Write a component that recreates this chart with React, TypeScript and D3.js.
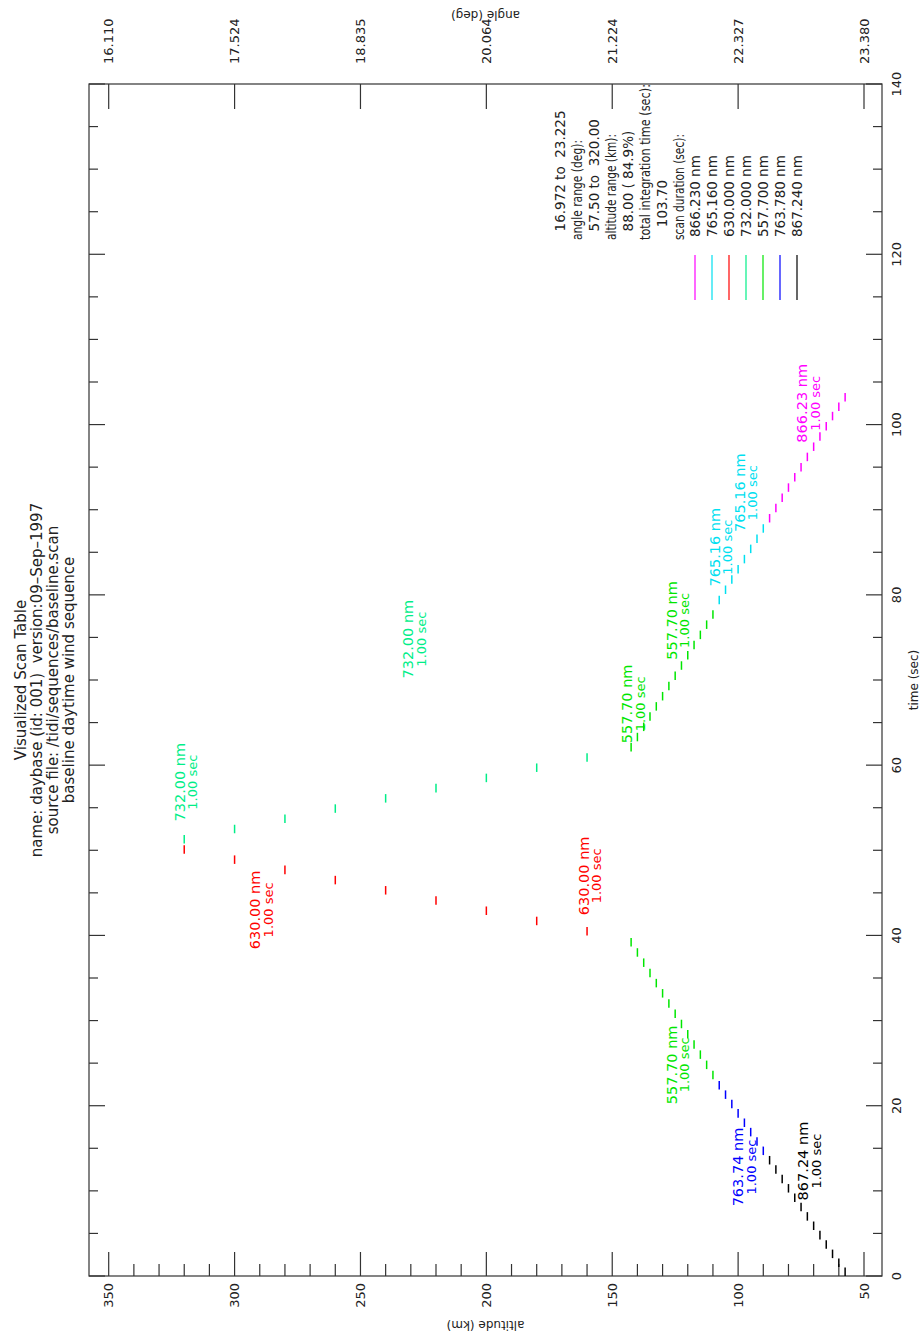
import React from 'react';
import * as d3 from 'd3';

// page is drawn in the plot's own (landscape) frame, then turned -90deg
const W = 923;
const H = 1342;

const timeTicksMajor = [0, 20, 40, 60, 80, 100, 120, 140];
const altTicksMajor = [350, 300, 250, 200, 150, 100, 50];
const angleTickLabels = ['16.110', '17.524', '18.835', '20.064', '21.224', '22.327', '23.380'];

const titleLines = [
  'Visualized Scan Table',
  'name: daybase (id: 001)  version:09\u2013Sep\u20131997',
  'source file: /tidi/sequences/baseline.scan',
  'baseline daytime wind sequence',
];

// scan table, one array pair per filter run (altitude km, start time sec)
const alt867 = [57.5, 60, 62.5, 65, 67.5, 70, 72.5, 75, 77.5, 80, 82.5, 85, 87.5];
const t867 = [0.0, 1.05, 2.1, 3.2, 4.3, 5.4, 6.5, 7.6, 8.7, 9.8, 10.9, 12.0, 13.1];
const alt763 = [90, 92.5, 95, 97.5, 100, 102.5, 105, 107.5];
const t763 = [14.2, 15.3, 16.4, 17.5, 18.6, 19.7, 20.8, 21.9];
const alt557up = [110, 112.5, 115, 117.5, 120, 122.5, 125, 127.5, 130, 132.5, 135, 137.5, 140, 142.5];
const t557up = [23.1, 24.3, 25.5, 26.7, 27.9, 29.1, 30.3, 31.5, 32.7, 33.9, 35.1, 36.3, 37.5, 38.7];
const alt630 = [160, 180, 200, 220, 240, 260, 280, 300, 320];
const t630 = [40.0, 41.2, 42.4, 43.6, 44.8, 46.0, 47.2, 48.4, 49.6];
const alt732 = [320, 300, 280, 260, 240, 220, 200, 180, 160];
const t732 = [50.8, 52.0, 53.2, 54.4, 55.6, 56.8, 58.0, 59.2, 60.4];
const alt557down = [142.5, 140, 137.5, 135, 132.5, 130, 127.5, 125, 122.5, 120, 117.5, 115, 112.5, 110];
const t557down = [61.6, 62.8, 64.0, 65.2, 66.4, 67.6, 68.8, 70.0, 71.2, 72.4, 73.6, 74.8, 76.0, 77.2];
const alt765 = [107.5, 105, 102.5, 100, 97.5, 95, 92.5, 90];
const t765 = [78.9, 80.1, 81.3, 82.5, 83.7, 84.9, 86.1, 87.3];
const alt866 = [87.5, 85, 82.5, 80, 77.5, 75, 72.5, 70, 67.5, 65, 62.5, 60, 57.5];
const t866 = [88.5, 89.7, 90.9, 92.1, 93.3, 94.5, 95.7, 96.9, 98.1, 99.3, 100.5, 101.6, 102.7];
const integration = 1.0;

const legendNames = ['867.240 nm', '763.780 nm', '557.700 nm', '732.000 nm', '630.000 nm', '765.160 nm', '866.230 nm'];
const legendColors = ['#000000', '#0000ff', '#00e600', '#00ee88', '#ff0000', '#00e0f0', '#ff00ff'];
const infoLines = [
  'scan duration (sec):',
  '   103.70',
  'total integration time (sec):',
  '  88.00 ( 84.9%)',
  'altitude range (km):',
  '  57.50 to  320.00',
  'angle range (deg):',
  '  16.972 to  23.225',
];
// the plot font is narrow for letters; squeeze the worded lines
const infoWidths = [106, 0, 156, 0, 106, 0, 100, 0];

// run labels: wavelength, colour index, centre time, altitude of first line
const labelWl = ['867.24', '763.74', '557.70', '630.00', '630.00', '732.00', '732.00', '557.70', '557.70', '765.16', '765.16', '866.23'];
const labelColor = [0, 1, 2, 4, 4, 3, 3, 2, 2, 5, 5, 6];
const labelT = [13.5, 12.8, 24.8, 47.0, 43.0, 58.0, 74.8, 67.2, 77.0, 85.6, 92.0, 102.5];
const labelAlt = [72.2, 98.0, 124.3, 159.4, 289.9, 319.7, 229.1, 142.1, 124.3, 107.2, 97.3, 72.6];

const runs = [
  { alt: alt867, t: t867, c: 0 },
  { alt: alt763, t: t763, c: 1 },
  { alt: alt557up, t: t557up, c: 2 },
  { alt: alt630, t: t630, c: 4 },
  { alt: alt732, t: t732, c: 3 },
  { alt: alt557down, t: t557down, c: 2 },
  { alt: alt765, t: t765, c: 5 },
  { alt: alt866, t: t866, c: 6 },
];

const font = "'DejaVu Sans', sans-serif";
const ink = '#222';

const App: React.FC = () => {
  const frame = { left: 66, right: 1258, top: 89, bottom: 882 };
  const x = d3.scaleLinear().domain([0, 140]).range([frame.left, frame.right]);
  const y = d3.scaleLinear().domain([50, 350]).range([864, 108.7]);

  const minorTime = d3.range(0, 141, 5);
  const altMinor = d3.range(50, 351, 10);
  const midU = (frame.left + frame.right) / 2;
  const midV = (frame.top + frame.bottom) / 2;

  return (
    <svg
      width={W}
      height={H}
      viewBox={`0 0 ${W} ${H}`}
      style={{ position: 'absolute', left: 0, top: 0, background: '#fff' }}
      fontFamily={font}
    >
      <rect x={0} y={0} width={W} height={H} fill="#fff" />
      <g transform={`translate(0,${H}) rotate(-90)`}>
        {/* title block */}
        {titleLines.map((s, i) => (
          <text key={s} x={midU} y={26 + i * 16} textAnchor="middle" fontSize={15} fill={ink} xmlSpace="preserve">
            {s}
          </text>
        ))}

        {/* frame */}
        <rect
          x={frame.left}
          y={frame.top}
          width={frame.right - frame.left}
          height={frame.bottom - frame.top}
          fill="none"
          stroke="#333"
          strokeWidth={1.2}
        />

        {/* time ticks on both long edges */}
        {minorTime.map(t => {
          const len = t % 20 === 0 ? 16 : 9;
          return (
            <g key={`tt${t}`} stroke="#333" strokeWidth={1.2}>
              <line x1={x(t)} x2={x(t)} y1={frame.bottom} y2={frame.bottom - len} />
              <line x1={x(t)} x2={x(t)} y1={frame.top} y2={frame.top + len} />
            </g>
          );
        })}
        {timeTicksMajor.map(t => (
          <text key={`tl${t}`} x={x(t)} y={901} textAnchor="middle" fontSize={13} fill={ink}>
            {t}
          </text>
        ))}
        <text x={midU} y={918} textAnchor="middle" fontSize={12} fill={ink}>
          time (sec)
        </text>

        {/* altitude ticks */}
        {altMinor.map(a => {
          const len = a % 50 === 0 ? 24 : 12;
          return (
            <line key={`at${a}`} x1={frame.left} x2={frame.left + len} y1={y(a)} y2={y(a)} stroke="#333" strokeWidth={1.2} />
          );
        })}
        {altTicksMajor.map(a => (
          <text key={`al${a}`} x={59} y={y(a)} dy="0.36em" textAnchor="end" fontSize={13} fill={ink}>
            {a}
          </text>
        ))}
        <text
          transform={`translate(21,${midV}) rotate(-90)`}
          textAnchor="middle"
          fontSize={12}
          fill={ink}
        >
          altitude (km)
        </text>

        {/* angle axis */}
        {altTicksMajor.map((a, i) => (
          <g key={`ang${a}`}>
            <line x1={frame.right} x2={frame.right - 25} y1={y(a)} y2={y(a)} stroke="#333" strokeWidth={1.2} />
            <text x={1278} y={y(a)} dy="0.36em" fontSize={13} fill={ink}>
              {angleTickLabels[i]}
            </text>
          </g>
        ))}
        <text
          transform={`translate(1331,${midV}) rotate(-90)`}
          textAnchor="middle"
          fontSize={12}
          fill={ink}
        >
          angle (deg)
        </text>

        {/* integration marks */}
        {runs.map((r, ri) =>
          r.alt.map((a, i) => (
            <line
              key={`m${ri}-${i}`}
              x1={x(r.t[i])}
              x2={x(r.t[i] + integration)}
              y1={y(a)}
              y2={y(a)}
              stroke={legendColors[r.c]}
              strokeWidth={1.5}
            />
          ))
        )}

        {/* run labels */}
        {labelWl.map((wl, i) => {
          const v = y(labelAlt[i]);
          const col = legendColors[labelColor[i]];
          return (
            <g key={`lab${i}`} fill={col} textAnchor="middle">
              <text x={x(labelT[i])} y={v} fontSize={14.5}>
                {`${wl} nm`}
              </text>
              <text x={x(labelT[i])} y={v + 12.5} fontSize={13}>
                1.00 sec
              </text>
            </g>
          );
        })}

        {/* legend */}
        {legendNames.map((n, i) => {
          const v = 802 - i * 17;
          return (
            <g key={n}>
              <line x1={1042} x2={1087} y1={v - 5} y2={v - 5} stroke={legendColors[i]} strokeWidth={1.2} />
              <text x={1105} y={v} fontSize={13.5} fill={ink}>
                {n}
              </text>
            </g>
          );
        })}
        {infoLines.map((s, i) => (
          <text
            key={`info${i}`}
            x={1102}
            y={684 - i * 17}
            fontSize={13.5}
            fill={ink}
            xmlSpace="preserve"
            {...(infoWidths[i] ? { textLength: infoWidths[i], lengthAdjust: 'spacingAndGlyphs' } : {})}
          >
            {s}
          </text>
        ))}
      </g>
    </svg>
  );
};

export default App;
